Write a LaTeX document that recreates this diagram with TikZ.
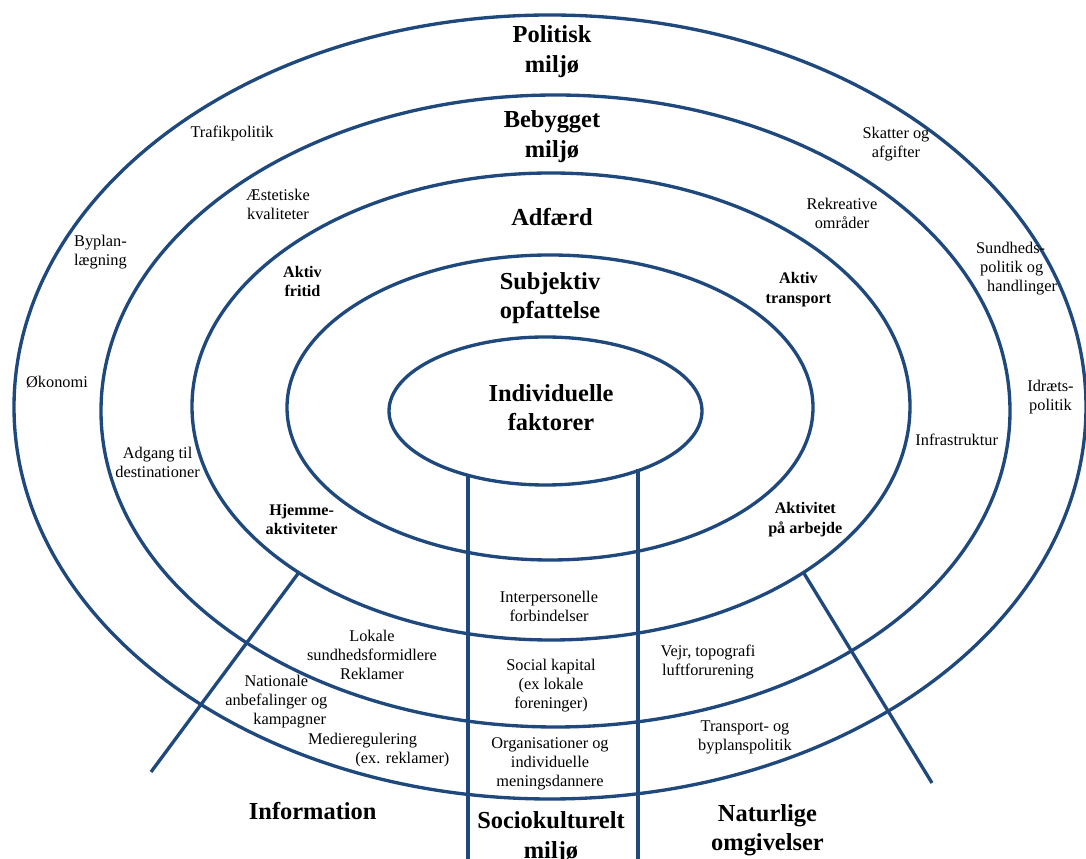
\documentclass[tikz,border=0pt]{standalone}
\usepackage{fontspec}
\setmainfont{Liberation Serif}
\definecolor{ringblue}{RGB}{31,73,125}
\begin{document}
\begin{tikzpicture}[scale=0.2]
	\tikzstyle{every node}+=[inner sep=0pt]
	\tikzstyle{ring}=[draw=ringblue, line width=1.9pt]
	\tikzstyle{big}=[font=\fontsize{13.9}{16.8}\selectfont\bfseries, align=center]
	\tikzstyle{small}=[font=\fontsize{9.3}{10.8}\selectfont, align=center]
	\tikzstyle{smallbf}=[font=\fontsize{9.2}{11}\selectfont\bfseries, align=center]
	\useasboundingbox (0,0) rectangle (108.6,-85.9);
	\draw [ring] (55,-40.7) ellipse (53.6 and 39.2);
	\draw [ring] (55.55,-41.1) ellipse (45.45 and 31.6);
	\draw [ring] (55.1,-40.65) ellipse (35.9 and 23.35);
	\draw [ring] (55,-40.75) ellipse (26.3 and 15.25);
	\draw [ring] (54.55,-41.1) ellipse (15.65 and 7.4);
	\coordinate (socL) at (46.8,-47.4);
	\coordinate (socLend) at (46.8,-87);
	\coordinate (socR) at (63.8,-46.95);
	\coordinate (socRend) at (63.8,-87);
	\coordinate (infoA) at (29.87,-57.27);
	\coordinate (infoB) at (15.1,-77.2);
	\coordinate (natA) at (80.35,-57.25);
	\coordinate (natB) at (93.2,-78.3);
	\draw [ring] (socL) -- (socLend);
	\draw [ring] (socR) -- (socRend);
	\draw [ring] (infoA) -- (infoB);
	\draw [ring] (natA) -- (natB);
	\node [big] (politisk) at (55.2,-5.17) {Politisk\\miljø};
	\node [big] (bebygget) at (55.2,-13.67) {Bebygget\\miljø};
	\node [big] (adfaerd) at (55.2,-21.67) {Adfærd};
	\node [big] (subjektiv) at (55,-29.83) {Subjektiv\\opfattelse};
	\node [big] (individ) at (55.1,-40.75) {Individuelle\\faktorer};
	\node [big] (sociokult) at (55.1,-83.75) {Sociokulturelt\\miljø};
	\node [big] (information) at (31.27,-81.07) {Information};
	\node [big] (naturlige) at (76.75,-83) {Naturlige\\omgivelser};
	\node [small] (trafik) at (23.2,-13.3) {Trafikpolitik};
	\node [small] (aestetik) at (27.8,-20.4) {Æstetiske\\kvaliteter};
	\node [small] (byplan) at (10.05,-25.2) {Byplan-\\lægning};
	\node [small] (oekonomi) at (5.7,-38.25) {Økonomi};
	\node [small] (skatter) at (89.6,-14.4) {Skatter og\\afgifter};
	\node [small] (rekreativ) at (84.2,-21.3) {Rekreative\\områder};
	\node [small, align=left] (sundhed) at (101.66,-26.9) {Sundheds-\\\hspace*{2.3pt}politik og\\\hspace*{6.3pt}handlinger};
	\node [small] (idraet) at (105.05,-39.75) {Idræts-\\politik};
	\node [small] (infra) at (95.67,-44) {Infrastruktur};
	\node [small] (adgang) at (15.76,-46.2) {Adgang til\\destinationer};
	\node [smallbf] (fritid) at (30.25,-28.15) {Aktiv\\fritid};
	\node [smallbf] (transport) at (79.85,-28.95) {Aktiv\\transport};
	\node [smallbf] (hjemme) at (30.16,-51.97) {Hjemme-\\aktiviteter};
	\node [smallbf] (arbejde) at (80.53,-51.97) {Aktivitet\\på arbejde};
	\node [small] (interpers) at (54.9,-60.65) {Interpersonelle\\forbindelser};
	\node [small] (lokale) at (37.2,-65.5) {Lokale\\sundhedsformidlere\\Reklamer};
	\node [small] (kapital) at (55.1,-68.6) {Social kapital\\(ex lokale\\foreninger)};
	\node [small] (vejr) at (70.8,-66.2) {Vejr, topografi\\luftforurening};
	\node [small, align=left] (nationale) at (27.63,-70.2) {\hspace*{11pt}Nationale\\anbefalinger og\\\hspace*{16pt}kampagner};
	\node [small, align=left] (medie) at (37.87,-75) {Medieregulering\\\hspace*{27pt}(ex. reklamer)};
	\node [small] (organis) at (55,-76.35) {Organisationer og\\individuelle\\meningsdannere};
	\node [small] (byplanpol) at (74.5,-73.7) {Transport- og\\byplanspolitik};
\end{tikzpicture}
\end{document}
